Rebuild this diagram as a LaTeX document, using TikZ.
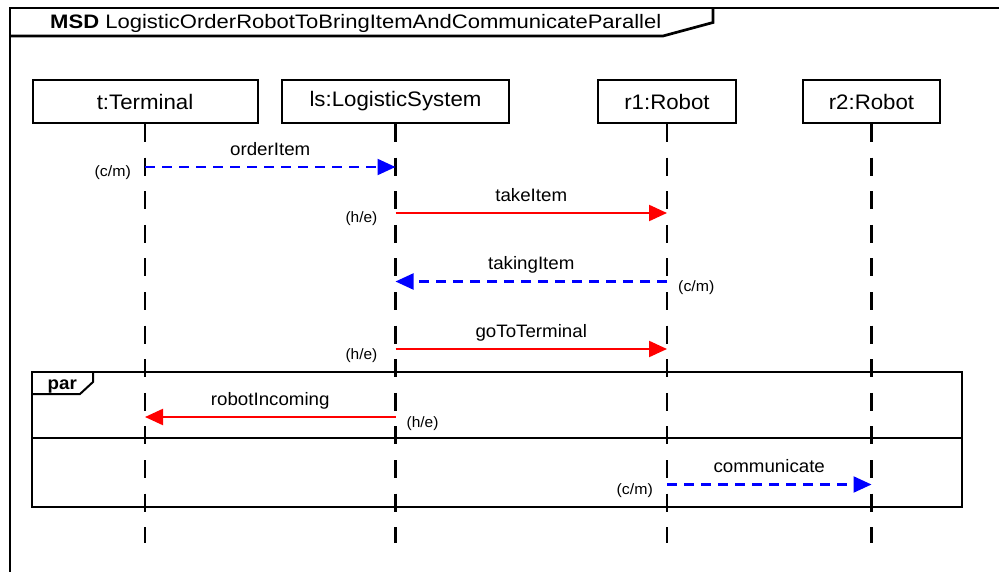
\documentclass[tikz,border=0pt]{standalone}
\usepackage{fontspec}
\setmainfont{Liberation Sans}
\usepackage{graphicx}
\usetikzlibrary{arrows.meta,calc}

% horizontally widened text
\newcommand\widetext[2]{\scalebox{#1}[1]{#2}}

\definecolor{msgblue}{RGB}{0,0,255}
\definecolor{msgred}{RGB}{255,0,0}

\begin{document}
\begin{tikzpicture}[x=1pt,y=-1pt,
  lifebox/.style={draw, line width=2pt, minimum height=43pt, inner sep=0pt,
    anchor=north, font=\fontsize{21}{22}\selectfont},
  lifeline/.style={line width=2.4pt, dash pattern=on 18pt off 15.6pt},
  hotmsg/.style={msgred, line width=2.2pt, -{Triangle[length=18pt,width=16pt]}},
  coldmsg/.style={msgblue, line width=2.2pt, dash pattern=on 10pt off 7pt,
    -{Triangle[length=18pt,width=16pt]}},
  msglabel/.style={font=\fontsize{18}{19}\selectfont, inner sep=0pt, anchor=base},
  modlabel/.style={font=\fontsize{15}{16}\selectfont, inner sep=0pt},
  frameline/.style={line width=2.7pt},
  fragline/.style={line width=2pt},
]
\useasboundingbox (0,0) rectangle (999,572);

% diagram frame and its name tab
\draw[frameline] (10,600) -- (10,8) -- (1020,8);
\draw[frameline] (10,36) -- (663,36) -- (713,22.5) -- (713,8);
\node[anchor=base west, inner sep=0pt, font=\fontsize{19.5}{20}\selectfont] (title) at (50,29)
  {\widetext{1.13}{\textbf{MSD} LogisticOrderRobotToBringItemAndCommunicateParallel}};

% lifeline heads
\node[lifebox, minimum width=225pt] (t)  at (145,79)   {\widetext{1.06}{t:Terminal}};
\node[lifebox, minimum width=227pt] (ls) at (395.5,79) {\widetext{1.06}{ls:LogisticSystem}};
\node[lifebox, minimum width=138pt] (r1) at (667,79)   {\widetext{1.06}{r1:Robot}};
\node[lifebox, minimum width=137pt] (r2) at (871.5,79) {\widetext{1.06}{r2:Robot}};

% lifeline ends
\coordinate (tEnd)  at (t.south  |- 0,543);
\coordinate (lsEnd) at (ls.south |- 0,543);
\coordinate (r1End) at (r1.south |- 0,543);
\coordinate (r2End) at (r2.south |- 0,543);

\draw[lifeline] (t.south)  -- (tEnd);
\draw[lifeline] (ls.south) -- (lsEnd);
\draw[lifeline] (r1.south) -- (r1End);
\draw[lifeline] (r2.south) -- (r2End);

% par combined fragment
\draw[fragline] (32,372) rectangle (962,507);
\draw[fragline] (32,438) -- (962,438);
\draw[fragline] (32,394) -- (80,394) -- (93,382) -- (93,372);
\node[anchor=base west, inner sep=0pt, font=\bfseries\fontsize{18}{19}\selectfont] (par) at (47.5,389)
  {\widetext{1.04}{par}};

% message end points
\coordinate (a1) at (t.south  |- 0,167);   \coordinate (b1) at (ls.south |- 0,167);
\coordinate (a2) at (ls.south |- 0,213);   \coordinate (b2) at (r1.south |- 0,213);
\coordinate (a3) at (r1.south |- 0,281.5); \coordinate (b3) at (ls.south |- 0,281.5);
\coordinate (a4) at (ls.south |- 0,349);   \coordinate (b4) at (r1.south |- 0,349);
\coordinate (a5) at (ls.south |- 0,417);   \coordinate (b5) at (t.south  |- 0,417);
\coordinate (a6) at (r1.south |- 0,484.5); \coordinate (b6) at (r2.south |- 0,484.5);

% messages
\draw[coldmsg] (a1) -- (b1);
\draw[hotmsg]  (a2) -- (b2);
\draw[coldmsg] (a3) -- (b3);
\draw[hotmsg]  (a4) -- (b4);
\draw[hotmsg]  (a5) -- (b5);
\draw[coldmsg] (a6) -- (b6);

% message names
\node[msglabel] (n1) at ($(a1)!0.5!(b1)+(0,-11.7)$) {\widetext{1.04}{orderItem}};
\node[msglabel] (n2) at ($(a2)!0.5!(b2)+(0,-11.7)$) {\widetext{1.04}{takeItem}};
\node[msglabel] (n3) at ($(a3)!0.5!(b3)+(0,-11.7)$) {\widetext{1.04}{takingItem}};
\node[msglabel] (n4) at ($(a4)!0.5!(b4)+(0,-11.7)$) {\widetext{1.04}{goToTerminal}};
\node[msglabel] (n5) at ($(a5)!0.5!(b5)+(0,-11.7)$) {\widetext{1.04}{robotIncoming}};
\node[msglabel] (n6) at ($(a6)!0.5!(b6)+(0,-11.7)$) {\widetext{1.04}{communicate}};

% modalities
\node[modlabel, anchor=base east] (m1) at ($(a1)+(-14,10)$) {\widetext{1.06}{(c/m)}};
\node[modlabel, anchor=base east] (m2) at ($(a2)+(-18,10)$) {\widetext{1.03}{(h/e)}};
\node[modlabel, anchor=base west] (m3) at ($(a3)+(11,10)$)  {\widetext{1.06}{(c/m)}};
\node[modlabel, anchor=base east] (m4) at ($(a4)+(-18,10)$) {\widetext{1.03}{(h/e)}};
\node[modlabel, anchor=base west] (m5) at ($(a5)+(11,10)$)  {\widetext{1.03}{(h/e)}};
\node[modlabel, anchor=base east] (m6) at ($(a6)+(-14,10)$) {\widetext{1.06}{(c/m)}};
\end{tikzpicture}
\end{document}
